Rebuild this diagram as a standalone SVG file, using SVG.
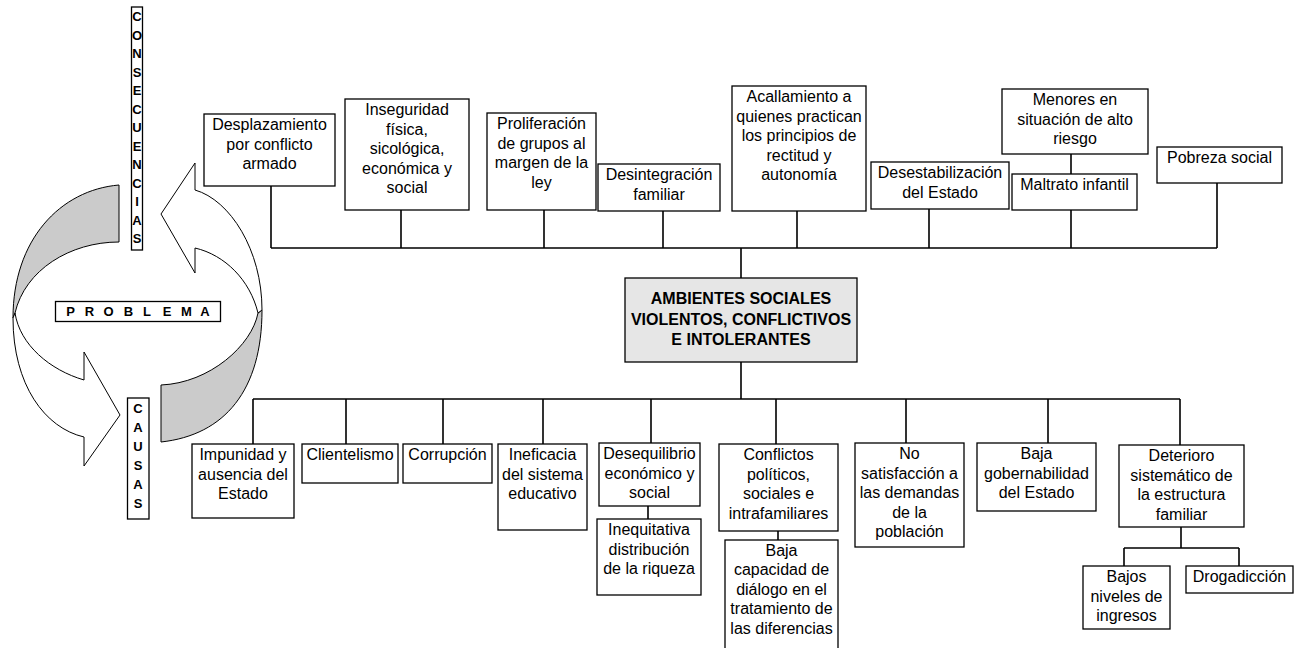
<svg xmlns="http://www.w3.org/2000/svg" width="1299" height="648" viewBox="0 0 1299 648">
<style>
.box{fill:#fff;stroke:#000;stroke-width:1.3}
.main{fill:#e6e6e6;stroke:#000;stroke-width:1.3}
.t{font-family:"Liberation Sans",Arial,sans-serif;font-size:16px;text-anchor:middle;fill:#000}
.b{font-weight:bold}
.lt{font-family:"Liberation Sans",Arial,sans-serif;font-size:13px;font-weight:bold;text-anchor:middle;fill:#000}
.conn{stroke:#000;stroke-width:1.6;fill:none}
.arrW{fill:#fff;stroke:#000;stroke-width:1}
.arrG{fill:#cbcbcb;stroke:#000;stroke-width:1}
</style>
<rect width="1299" height="648" fill="#fff"/>

<g id="cycle">
<path class="arrG" d="M119,185 C60,190 13,240 13,318 L15,313 C25,270 70,242 119,242 Z"/>
<path class="arrW" d="M13,318 C13,385 45,428 84,437 L84,466 L120,415 L84,352 L84,380 C50,370 20,345 15,313 Z"/>
<path class="arrG" d="M161,442 C225,435 262,390 262,310 L258,313 C252,345 210,383 161,385 Z"/>
<path class="arrW" d="M262,310 C262,250 230,200 195,190 L195,163 L161,214 L195,273 L195,248 C225,255 250,280 258,313 Z"/>
</g>

<g id="consecuencias">
<rect class="box" x="131.5" y="7" width="11" height="243"/>
<text class="lt"><tspan x="137" y="21">C</tspan><tspan x="137" y="39.5">O</tspan><tspan x="137" y="58">N</tspan><tspan x="137" y="76.5">S</tspan><tspan x="137" y="95">E</tspan><tspan x="137" y="113.5">C</tspan><tspan x="137" y="132">U</tspan><tspan x="137" y="150.5">E</tspan><tspan x="137" y="169">N</tspan><tspan x="137" y="187.5">C</tspan><tspan x="137" y="206">I</tspan><tspan x="137" y="224.5">A</tspan><tspan x="137" y="243">S</tspan></text>
</g>

<g id="problema">
<rect class="box" x="55.5" y="301.5" width="165" height="20"/>
<text class="lt" y="316"><tspan x="70.5">P</tspan><tspan x="89.5">R</tspan><tspan x="108.5">O</tspan><tspan x="128.5">B</tspan><tspan x="147">L</tspan><tspan x="167">E</tspan><tspan x="186.5">M</tspan><tspan x="205">A</tspan></text>
</g>

<g id="causas">
<rect class="box" x="127.5" y="398" width="21.5" height="121"/>
<text class="lt"><tspan x="138" y="413">C</tspan><tspan x="138" y="432">A</tspan><tspan x="138" y="451">U</tspan><tspan x="138" y="470">S</tspan><tspan x="138" y="489">A</tspan><tspan x="138" y="508">S</tspan></text>
</g>

<g id="connectors">
<path class="conn" d="M271,248 H1217 M271,186 V248 M401,210 V248 M544,210 V248 M663,211 V248 M797,211 V248 M929,209 V248 M1071,210 V248 M1071,154 V174 M1217,183 V248 M741,248 V278"/>
<path class="conn" d="M741,362 V399 M253,399 H1180 M253,399 V444 M346,399 V444 M443,399 V444 M543,399 V444 M651,399 V443 M776,399 V444 M906,399 V443 M1048,399 V443 M1180,399 V445 M648,506 V519 M778,531 V540 M1181,527 V548 M1124,548 H1239 M1124,548 V566 M1239,548 V566"/>
</g>

<g id="desplazamiento"><rect class="box" x="204" y="114" width="131" height="72"/>
<text class="t"><tspan x="269.5" y="130">Desplazamiento</tspan><tspan x="269.5" y="149.5">por conflicto</tspan><tspan x="269.5" y="169">armado</tspan></text></g>

<g id="inseguridad"><rect class="box" x="345" y="99" width="124" height="111"/>
<text class="t"><tspan x="407" y="115">Inseguridad</tspan><tspan x="407" y="134.5">física,</tspan><tspan x="407" y="154">sicológica,</tspan><tspan x="407" y="173.5">económica y</tspan><tspan x="407" y="193">social</tspan></text></g>

<g id="proliferacion"><rect class="box" x="487" y="113" width="109" height="97"/>
<text class="t"><tspan x="541.5" y="129">Proliferación</tspan><tspan x="541.5" y="148.5">de grupos al</tspan><tspan x="541.5" y="168">margen de la</tspan><tspan x="541.5" y="187.5">ley</tspan></text></g>

<g id="desintegracion"><rect class="box" x="598" y="164" width="122" height="47"/>
<text class="t"><tspan x="659" y="180">Desintegración</tspan><tspan x="659" y="199.5">familiar</tspan></text></g>

<g id="acallamiento"><rect class="box" x="732" y="86" width="134" height="125"/>
<text class="t"><tspan x="799" y="102">Acallamiento a</tspan><tspan x="799" y="121.5">quienes practican</tspan><tspan x="799" y="141">los principios de</tspan><tspan x="799" y="160.5">rectitud y</tspan><tspan x="799" y="180">autonomía</tspan></text></g>

<g id="desestabilizacion"><rect class="box" x="871" y="162" width="138" height="47"/>
<text class="t"><tspan x="940" y="178">Desestabilización</tspan><tspan x="940" y="197.5">del Estado</tspan></text></g>

<g id="menores"><rect class="box" x="1002" y="89" width="146" height="65"/>
<text class="t"><tspan x="1075" y="105">Menores en</tspan><tspan x="1075" y="124.5">situación de alto</tspan><tspan x="1075" y="144">riesgo</tspan></text></g>

<g id="maltrato"><rect class="box" x="1012" y="174" width="125" height="36"/>
<text class="t"><tspan x="1074.5" y="190">Maltrato infantil</tspan></text></g>

<g id="pobreza"><rect class="box" x="1157" y="147" width="125" height="36"/>
<text class="t"><tspan x="1219.5" y="163">Pobreza social</tspan></text></g>

<g id="ambientes"><rect class="main" x="625" y="278" width="232" height="84"/>
<text class="t b"><tspan x="741" y="304">AMBIENTES SOCIALES</tspan><tspan x="741" y="324.5">VIOLENTOS, CONFLICTIVOS</tspan><tspan x="741" y="345">E INTOLERANTES</tspan></text></g>

<g id="impunidad"><rect class="box" x="192" y="444" width="102" height="74"/>
<text class="t"><tspan x="243" y="460">Impunidad y</tspan><tspan x="243" y="479.5">ausencia del</tspan><tspan x="243" y="499">Estado</tspan></text></g>

<g id="clientelismo"><rect class="box" x="302" y="444" width="96" height="39"/>
<text class="t"><tspan x="350" y="460">Clientelismo</tspan></text></g>

<g id="corrupcion"><rect class="box" x="403" y="444" width="89" height="39"/>
<text class="t"><tspan x="447.5" y="460">Corrupción</tspan></text></g>

<g id="ineficacia"><rect class="box" x="498" y="444" width="89" height="86"/>
<text class="t"><tspan x="542.5" y="460">Ineficacia</tspan><tspan x="542.5" y="479.5">del sistema</tspan><tspan x="542.5" y="499">educativo</tspan></text></g>

<g id="desequilibrio"><rect class="box" x="599" y="443" width="101" height="63"/>
<text class="t"><tspan x="649.5" y="459">Desequilibrio</tspan><tspan x="649.5" y="478.5">económico y</tspan><tspan x="649.5" y="498">social</tspan></text></g>

<g id="inequitativa"><rect class="box" x="597" y="519" width="104" height="76"/>
<text class="t"><tspan x="649" y="535">Inequitativa</tspan><tspan x="649" y="554.5">distribución</tspan><tspan x="649" y="574">de la riqueza</tspan></text></g>

<g id="conflictos"><rect class="box" x="719" y="444" width="119" height="87"/>
<text class="t"><tspan x="778.5" y="460">Conflictos</tspan><tspan x="778.5" y="479.5">políticos,</tspan><tspan x="778.5" y="499">sociales e</tspan><tspan x="778.5" y="518.5">intrafamiliares</tspan></text></g>

<g id="baja-capacidad"><rect class="box" x="725" y="540" width="113" height="112"/>
<text class="t"><tspan x="781.5" y="555.5">Baja</tspan><tspan x="781.5" y="575">capacidad de</tspan><tspan x="781.5" y="594.5">diálogo en el</tspan><tspan x="781.5" y="614">tratamiento de</tspan><tspan x="781.5" y="633.5">las diferencias</tspan></text></g>

<g id="no-satisfaccion"><rect class="box" x="855" y="443" width="109" height="104"/>
<text class="t"><tspan x="909.5" y="459">No</tspan><tspan x="909.5" y="478.5">satisfacción a</tspan><tspan x="909.5" y="498">las demandas</tspan><tspan x="909.5" y="517.5">de la</tspan><tspan x="909.5" y="537">población</tspan></text></g>

<g id="baja-gobernabilidad"><rect class="box" x="977" y="443" width="119" height="68"/>
<text class="t"><tspan x="1036.5" y="459">Baja</tspan><tspan x="1036.5" y="478.5">gobernabilidad</tspan><tspan x="1036.5" y="498">del Estado</tspan></text></g>

<g id="deterioro"><rect class="box" x="1119" y="445" width="125" height="82"/>
<text class="t"><tspan x="1181.5" y="461">Deterioro</tspan><tspan x="1181.5" y="480.5">sistemático de</tspan><tspan x="1181.5" y="500">la estructura</tspan><tspan x="1181.5" y="519.5">familiar</tspan></text></g>

<g id="bajos-niveles"><rect class="box" x="1083" y="566" width="87" height="63"/>
<text class="t"><tspan x="1126.5" y="582">Bajos</tspan><tspan x="1126.5" y="601.5">niveles de</tspan><tspan x="1126.5" y="621">ingresos</tspan></text></g>

<g id="drogadiccion"><rect class="box" x="1186" y="566" width="107" height="27"/>
<text class="t"><tspan x="1239.5" y="582">Drogadicción</tspan></text></g>
</svg>
